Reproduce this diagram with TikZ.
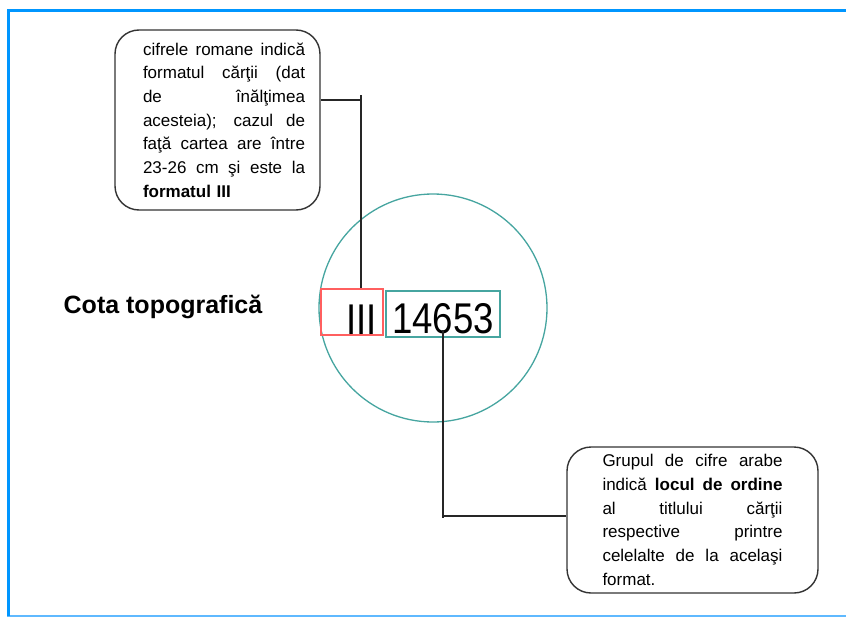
\documentclass[tikz,border=0pt]{standalone}
\usepackage{fontspec}
\setmainfont{Liberation Sans}
\newfontfamily\bignum{Liberation Sans}[FakeStretch=0.85]
\usepackage{tikz}
\usetikzlibrary{calc}
\definecolor{frameblue}{RGB}{0,150,255}
\definecolor{framelight}{RGB}{95,185,255}
\definecolor{ringteal}{RGB}{70,165,160}
\definecolor{boxred}{RGB}{255,95,95}
\setlength{\parindent}{0pt}
% one justified line of a note
\newcommand{\jl}[2][162pt]{\leavevmode\hbox to #1{\spaceskip=0.278em plus 1fil\xspaceskip=\spaceskip\relax #2}}

\begin{document}
\begin{tikzpicture}[x=1pt,y=-1pt,
  note/.style={draw=black!80,line width=1.4pt,rounded corners=24pt,align=left,
    font=\fontsize{17}{23.7}\selectfont},
  lead/.style={black!85,line width=1.2pt},
  cota/.style={minimum height=46pt,inner ysep=1pt,inner xsep=6pt,line width=1.3pt,
    font=\bignum\fontsize{43}{43}\selectfont}]
\useasboundingbox (0,0) rectangle (846,618);

% frame
\draw[framelight,line width=2.5pt] (7,616) -- (846,616);
\draw[frameblue,line width=3pt] (8.5,616) -- (8.5,10.8) -- (846,10.8);

\node[draw=ringteal,line width=1.3pt,circle,minimum size=228pt,inner sep=0pt] (ring) at (433,308) {};

\node[font=\bfseries\fontsize{25}{30}\selectfont,anchor=base] (title) at (163,313) {Cota topografică};

\node[cota,draw=boxred,text width=50pt,align=right,text height=44pt,minimum width=62pt] (roman) at (352,312) {III};
\node[cota,draw=ringteal,minimum width=114pt,text height=40pt] (arab) at (443,314) {14653};

\node[note,text width=175pt,inner xsep=15pt,minimum height=180pt] (romnote) at (217.5,120)
  {\leftskip=13pt
   \jl{cifrele romane indică}\\
   \jl{formatul cărţii (dat}\\
   \jl{de înălţimea}\\
   \jl{acesteia); cazul de}\\
   \jl{faţă cartea are între}\\
   \jl{23-26 cm şi este la}\\
   \textbf{formatul III}\par\vspace*{-5pt}};

\node[note,text width=180pt,inner xsep=35.5pt,minimum height=146pt] (arabnote) at (692.5,520)
  {\jl[180pt]{Grupul de cifre arabe}\\
   \jl[180pt]{indică \textbf{locul de ordine}}\\
   \jl[180pt]{al titlului cărţii}\\
   \jl[180pt]{respective printre}\\
   \jl[180pt]{celelalte de la acelaşi}\\
   format.\par\vspace*{10pt}};

% leaders
\coordinate (kneeA) at (361,100);
\draw[lead] (kneeA -| romnote.east) -- (kneeA);
\draw[lead] ([yshift=5pt]kneeA) -- (kneeA |- roman.north);
\coordinate (kneeB) at (443,516);
\draw[lead] ([yshift=-16pt]arab.center) -- ([yshift=-2pt]kneeB);
\draw[lead] (kneeB) -- (kneeB -| arabnote.west);
\end{tikzpicture}
\end{document}
